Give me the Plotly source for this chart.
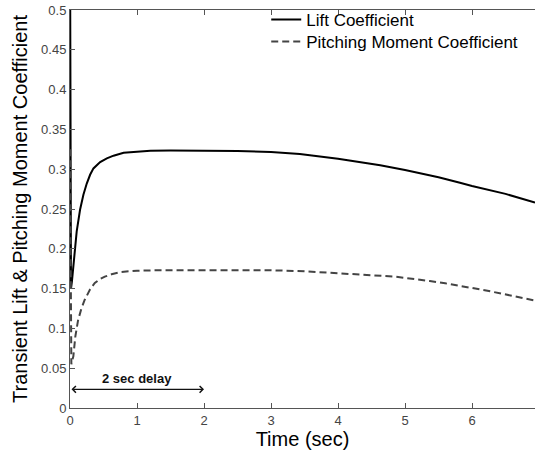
import plotly.graph_objects as go

# Data
t_lift = [0, 0.015, 0.03, 0.05, 0.075, 0.1, 0.15, 0.2, 0.25, 0.3, 0.35, 0.45, 0.55, 0.65,
          0.8, 1.04, 1.2, 1.5, 2.0, 2.5, 3.0, 3.43, 4.0, 4.63, 5.0, 5.5, 5.82, 6.0, 6.5, 6.94]
lift = [0.60, 0.15, 0.16, 0.18, 0.203, 0.222, 0.249, 0.268, 0.282, 0.293, 0.301, 0.309,
        0.3137, 0.317, 0.3207, 0.3228, 0.3233, 0.3235, 0.3235, 0.323, 0.3215, 0.319, 0.313,
        0.305, 0.299, 0.290, 0.283, 0.279, 0.269, 0.258]

t_pitch = [0, 0.02, 0.05, 0.08, 0.12, 0.17, 0.22, 0.3, 0.37, 0.45, 0.52, 0.62, 0.77, 1.0,
           1.27, 2.0, 2.5, 3.0, 3.5, 3.88, 4.3, 4.85, 5.37, 5.6, 6.19, 6.5, 6.94]
pitch = [0.325, 0.055, 0.065, 0.09, 0.11, 0.125, 0.136, 0.149, 0.157, 0.162, 0.165, 0.168,
         0.171, 0.1725, 0.173, 0.173, 0.1735, 0.173, 0.1718, 0.170, 0.168, 0.165, 0.1595,
         0.1566, 0.148, 0.143, 0.135]

x_ticks = [0, 1, 2, 3, 4, 5, 6]
y_ticks = [0, 0.05, 0.1, 0.15, 0.2, 0.25, 0.3, 0.35, 0.4, 0.45, 0.5]
delay_start, delay_end, delay_level = 0, 2, 0.0235

font_family = "Liberation Sans, Arial, sans-serif"

fig = go.Figure()
fig.add_trace(go.Scatter(x=t_lift, y=lift, mode="lines", name="Lift Coefficient",
                         line=dict(color="black", width=2), legend="legend"))
fig.add_trace(go.Scatter(x=t_pitch, y=pitch, mode="lines", name="Pitching Moment Coefficient",
                         line=dict(color="#444444", width=2, dash="7px,4px"), legend="legend2"))

fig.add_annotation(x=delay_end, y=delay_level, ax=delay_start, ay=delay_level,
                   xref="x", yref="y", axref="x", ayref="y", text="",
                   showarrow=True, arrowside="end+start", arrowhead=4, arrowsize=1,
                   arrowwidth=1.3, arrowcolor="#111111")
fig.add_annotation(x=(delay_start + delay_end) / 2, y=delay_level, xref="x", yref="y",
                   text="<b>2 sec delay</b>", showarrow=False, yanchor="bottom", yshift=1,
                   font=dict(family=font_family, size=13, color="#111111"))

legend_style = dict(xanchor="left", yanchor="middle", bgcolor="rgba(0,0,0,0)", borderwidth=0,
                    font=dict(family=font_family, size=17, color="black"))

fig.update_layout(
    width=535, height=450,
    margin=dict(l=70, r=0, t=10, b=42),
    paper_bgcolor="white", plot_bgcolor="white",
    font=dict(family=font_family, color="#333333"),
    showlegend=True,
    legend=dict(x=0.422, y=0.975, **legend_style),
    legend2=dict(x=0.422, y=0.92, **legend_style),
    xaxis=dict(range=[0, 6.94], tickvals=x_ticks, ticks="inside", ticklen=5,
               tickcolor="#555555", showline=True, linecolor="#555555", linewidth=1,
               mirror="ticks", showgrid=False, zeroline=False,
               tickfont=dict(size=13, color="#444444"),
               title=dict(text="Time (sec)", font=dict(size=20, color="black"), standoff=6)),
    yaxis=dict(range=[0, 0.5], tickvals=y_ticks, ticks="inside", ticklen=5,
               tickcolor="#555555", showline=True, linecolor="#555555", linewidth=1,
               showgrid=False, zeroline=False,
               tickfont=dict(size=13, color="#444444"),
               title=dict(text="Transient Lift & Pitching Moment Coefficient",
                          font=dict(size=20, color="black"), standoff=8)),
)

fig.write_html("out.html")
